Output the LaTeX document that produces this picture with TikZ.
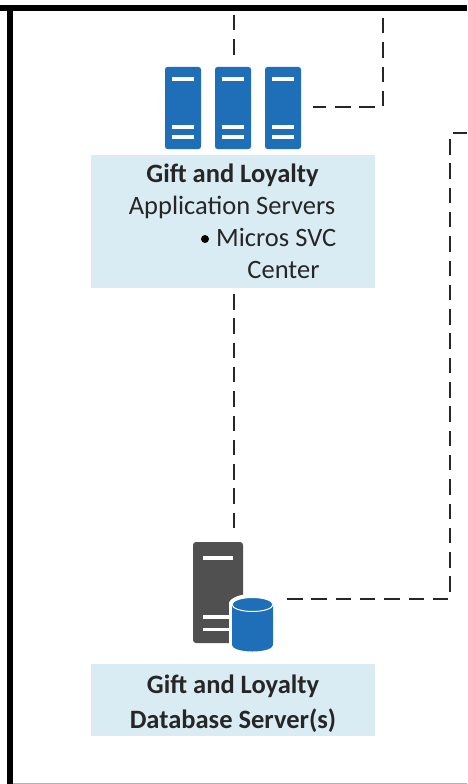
\documentclass[tikz,border=0pt]{standalone}
\usepackage{fontspec}
\setmainfont{Carlito}
\definecolor{srvblue}{HTML}{1F6FB8}
\definecolor{srvgrey}{HTML}{505050}
\definecolor{boxblue}{HTML}{DAECF3}
\definecolor{txt}{HTML}{262626}
\tikzset{
  rackbox/.style={fill=srvblue,draw=none,inner sep=0pt,minimum width=36pt,minimum height=82pt,rounded corners=2.5pt},
  panel/.style={fill=boxblue,draw=none,inner sep=0pt,minimum width=284pt},
  slot/.style={draw=white,line width=3.4pt},
  link/.style={draw=black!85,line width=1.9pt,dash pattern=on 15.5pt off 8.8pt},
  label/.style={inner sep=0pt,text=txt,font=\fontsize{26.5}{30}\selectfont,anchor=base},
  heavy/.style={fill=black,draw=none}
}
\begin{document}
\begin{tikzpicture}[x=1pt,y=-1pt]
\useasboundingbox (0,0) rectangle (467,784);
\fill[white] (0,0) rectangle (467,784);
% frame
\fill[heavy] (0,5) rectangle (467,11);
\fill[heavy] (7,5) rectangle (13,784);
\fill[black!30] (13,783) rectangle (467,784);
% panels
\node[panel,minimum height=133pt] (appbox) at (233,221.5) {};
\node[panel,minimum height=72pt] (dbbox) at (233,700) {};
% racks
\foreach \n/\cx in {A/183,B/233,C/283}{
  \node[rackbox] (rack\n) at (\cx,108) {};
  \draw[slot] (\cx-10.7,79) -- (\cx+10.7,79);
  \draw[slot] (\cx-10.7,127) -- (\cx+10.7,127);
  \draw[slot] (\cx-10.7,137) -- (\cx+10.7,137);
}
% database server
\node[fill=srvgrey,draw=none,inner sep=0pt,minimum width=50pt,minimum height=101pt,rounded corners=3pt] (dbsrv) at (218,592.5) {};
\draw[slot] (203,558) -- (233,558);
\draw[slot] (203,617) -- (233,617);
\draw[slot] (203,629.5) -- (233,629.5);
\node[inner sep=0pt,minimum width=41pt,minimum height=54pt] (cyl) at (252.5,624) {};
\fill[white] (229,604) arc[x radius=23.5,y radius=10,start angle=180,end angle=360] -- (276,653) -- (229,653) -- cycle;
\fill[white] (252.5,604) ellipse[x radius=23.5,y radius=10];
\fill[srvblue] (232,604) -- (273,604) -- (273,645) arc[x radius=20.5,y radius=6.5,start angle=0,end angle=180] -- cycle;
\draw[white,line width=1pt,fill=srvblue] (252.5,604.5) ellipse[x radius=20.5,y radius=7];
% labels
\node[label] (t1) at (232.5,182) {\textbf{Gift and Loyalty}};
\node[label] (t2) at (232,214) {Application Servers};
\node[label,anchor=base west] (t3) at (216,246) {Micros SVC};
\node[fill=black,circle,inner sep=0pt,minimum size=8pt] (bul) at (205,239) {};
\node[label] (t4) at (283.5,278) {Center};
\node[label] (t5) at (233,693) {\textbf{Gift and Loyalty}};
\node[label] (t6) at (233,728) {\textbf{Database Server(s)}};
% connector ends
\coordinate (topA) at (234,15);
\coordinate (topB) at (383,18);
\coordinate (cornerB) at (383,107);
\coordinate (rackEnd) at (313,107);
\coordinate (rackTop) at (234,55);
\coordinate (appLow) at (234,294);
\coordinate (dbTop) at (234,530);
\coordinate (dbEnd) at (287,599);
\coordinate (cornerC) at (450,599);
\coordinate (cornerD) at (450,133);
\coordinate (offR) at (467,133);
% connectors
\draw[link] (topA) -- (rackTop);
\draw[link] (topB) -- (cornerB) -- (rackEnd);
\draw[link] (appLow) -- (dbTop);
\draw[link] (dbEnd) -- (cornerC) -- (cornerD) -- (offR);
\end{tikzpicture}
\end{document}
